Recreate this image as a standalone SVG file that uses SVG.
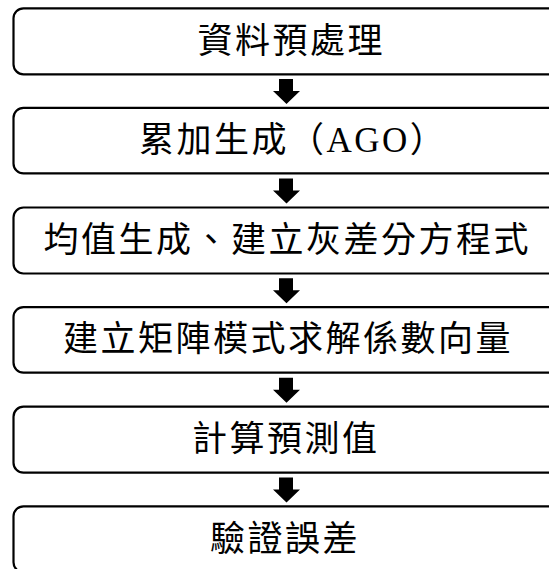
<svg xmlns="http://www.w3.org/2000/svg" width="549" height="569" viewBox="0 0 549 569">
<style>
.box{fill:#fff;stroke:#000;stroke-width:2.2}
.lbl{font-family:"Liberation Serif","Noto Sans CJK TC",serif;font-size:35px;letter-spacing:2.5px;fill:#000;dominant-baseline:central}
.arr{fill:#000}
</style>
<rect width="549" height="569" fill="#fff"/>
<g id="n1"><rect class="box" x="13.5" y="8.3" width="546" height="66" rx="10"/><text class="lbl" x="197.5" y="41.3">資料預處理</text></g>
<g id="n2"><rect class="box" x="13.5" y="107.9" width="546" height="65.5" rx="10"/><text class="lbl" x="139" y="140.6">累加生成（AGO）</text></g>
<g id="n3"><rect class="box" x="13.5" y="207.5" width="546" height="66" rx="10"/><text class="lbl" x="43.5" y="240.5">均值生成、建立灰差分方程式</text></g>
<g id="n4"><rect class="box" x="13.5" y="307.1" width="546" height="65.5" rx="10"/><text class="lbl" x="63" y="339.8">建立矩陣模式求解係數向量</text></g>
<g id="n5"><rect class="box" x="13.5" y="406.7" width="546" height="66" rx="10"/><text class="lbl" x="192" y="439.7">計算預測值</text></g>
<g id="n6"><rect class="box" x="13.5" y="506.3" width="546" height="66" rx="10"/><text class="lbl" x="210" y="539.3">驗證誤差</text></g>
<g id="connectors">
<polygon class="arr" points="279,79 293,79 293,91 300,91 286.5,104 273,91 279,91"/>
<polygon class="arr" transform="translate(0,99.6)" points="279,79 293,79 293,91 300,91 286.5,104 273,91 279,91"/>
<polygon class="arr" transform="translate(0,199.2)" points="279,79 293,79 293,91 300,91 286.5,104 273,91 279,91"/>
<polygon class="arr" transform="translate(0,298.8)" points="279,79 293,79 293,91 300,91 286.5,104 273,91 279,91"/>
<polygon class="arr" transform="translate(0,398.4)" points="279,79 293,79 293,91 300,91 286.5,104 273,91 279,91"/>
</g>
</svg>
